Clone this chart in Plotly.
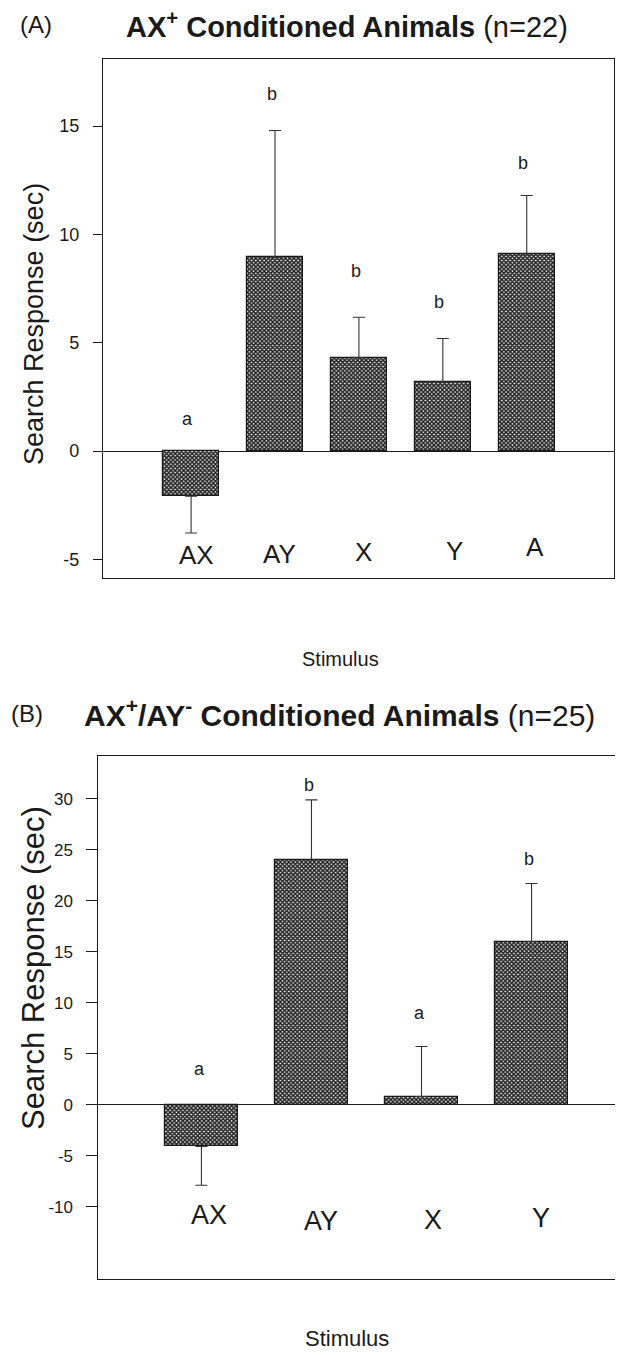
import plotly.graph_objects as go

# ---------------- data ----------------
cats_a = ["AX", "AY", "X", "Y", "A"]
mean_a = [-2.08, 8.95, 4.3, 3.18, 9.1]
sem_a = [1.7, 5.85, 1.88, 2.02, 2.7]
letters_a = ["a", "b", "b", "b", "b"]

cats_b = ["AX", "AY", "X", "Y"]
mean_b = [-4.1, 24.0, 0.8, 16.0]
sem_b = [3.8, 5.9, 4.9, 5.7]
letters_b = ["a", "b", "a", "b"]

yticks_a = [-5, 0, 5, 10, 15]
yticks_b = [-10, -5, 0, 5, 10, 15, 20, 25, 30]

# ---------------- layout helpers (positions) ----------------
PAGE_W, PAGE_H = 623, 1355
OFF = 8  # default page body margin
W, H = PAGE_W - OFF, PAGE_H - OFF
letter_y_a = [1.5, 16.5, 8.3, 6.9, 13.3]
letter_y_b = [3.5, 31.4, 9.0, 24.1]
catlab_dx_a = [0.07, 0.05, 0.06, 0.14, 0.10]
catlab_y_a = [-4.8, -4.75, -4.65, -4.6, -4.45]
catlab_dx_b = [0.07, 0.09, 0.10, 0.09]
catlab_y_b = [-10.8, -11.4, -11.3, -11.1]

FONT = "Liberation Sans, Arial, sans-serif"
INK = "#1a1a1a"
PAD = "\u00a0\u00a0"


def split_err(means, sems):
    up = [s if m >= 0 else 0 for m, s in zip(means, sems)]
    dn = [s if m < 0 else 0 for m, s in zip(means, sems)]
    return up, dn


def bar_trace(cats, means, sems, xa, ya, width):
    up, dn = split_err(means, sems)
    return go.Bar(
        x=cats, y=means, xaxis=xa, yaxis=ya, width=width,
        marker=dict(
            color="white",
            line=dict(color=INK, width=1.2),
            pattern=dict(shape="x", size=3, solidity=0.72,
                         fgcolor="#222222", bgcolor="#e2e2e2", fillmode="replace"),
        ),
        error_y=dict(type="data", symmetric=False, array=up, arrayminus=dn,
                     color="#333333", thickness=1.1, width=6),
        showlegend=False, hoverinfo="skip",
    )


fig = go.Figure()
fig.add_trace(bar_trace(cats_a, mean_a, sem_a, "x", "y", 0.67))
fig.add_trace(bar_trace(cats_b, mean_b, sem_b, "x2", "y2", 0.665))


def px_x(p):
    return (p - OFF) / W


def px_y(p):
    return 1 - (p - OFF) / H


axis_common = dict(showgrid=False, linecolor=INK, linewidth=1.3)

fig.update_layout(
    width=W, height=H,
    margin=dict(l=0, r=0, t=0, b=0),
    paper_bgcolor="white", plot_bgcolor="white",
    font=dict(family=FONT, color=INK),
    bargap=0,
    xaxis=dict(domain=[px_x(103), px_x(614)], range=[-1.05, 5.04],
               showline=True, mirror=True, showticklabels=False, ticks="",
               anchor="y", **axis_common),
    yaxis=dict(domain=[px_y(578), px_y(59)], range=[-5.86, 18.1],
               showline=True, mirror=True, tickvals=yticks_a,
               ticktext=[str(v) + PAD for v in yticks_a], ticks="outside",
               ticklen=9, tickcolor=INK, tickfont=dict(size=18, family=FONT),
               zeroline=True, zerolinecolor=INK, zerolinewidth=1.2,
               anchor="x", **axis_common),
    xaxis2=dict(domain=[px_x(98), 1.0], range=[-0.94, 3.905 - 8 / 108.3],
                showline=True, mirror=True, showticklabels=False, ticks="",
                anchor="y2", **axis_common),
    yaxis2=dict(domain=[px_y(1279), px_y(756)], range=[-17.1, 34.2],
                showline=True, mirror=False, tickvals=yticks_b,
                ticktext=[str(v) + PAD for v in yticks_b], ticks="outside",
                ticklen=11, tickcolor=INK, tickfont=dict(size=17, family=FONT),
                zeroline=True, zerolinecolor=INK, zerolinewidth=1.2,
                anchor="x2", **axis_common),
)

ann = []


def add(**kw):
    base = dict(showarrow=False, xanchor="center", yanchor="middle")
    base.update(kw)
    ann.append(base)


# significance letters
for i, (lt, yy) in enumerate(zip(letters_a, letter_y_a)):
    add(x=i - 0.04, y=yy, xref="x", yref="y", text=lt, font=dict(size=18, family=FONT))
for i, (lt, yy) in enumerate(zip(letters_b, letter_y_b)):
    add(x=i - 0.02, y=yy, xref="x2", yref="y2", text=lt, font=dict(size=18, family=FONT))
# category labels inside plots
for i, (c, dx, yy) in enumerate(zip(cats_a, catlab_dx_a, catlab_y_a)):
    add(x=i + dx, y=yy, xref="x", yref="y", text=c, font=dict(size=26, family=FONT))
for i, (c, dx, yy) in enumerate(zip(cats_b, catlab_dx_b, catlab_y_b)):
    add(x=i + dx, y=yy, xref="x2", yref="y2", text=c, font=dict(size=27, family=FONT))

# axis titles
add(x=px_x(34), y=px_y(324), xref="paper", yref="paper",
    text="Search Response (sec)", textangle=-90, font=dict(size=27, family=FONT))
add(x=px_x(33), y=px_y(968), xref="paper", yref="paper",
    text="Search Response (sec)", textangle=-90, font=dict(size=31, family=FONT))
add(x=px_x(340), y=px_y(659), xref="paper", yref="paper",
    text="Stimulus", font=dict(size=20, family=FONT))
add(x=px_x(347), y=px_y(1338), xref="paper", yref="paper",
    text="Stimulus", font=dict(size=22, family=FONT))

# panel titles
add(x=px_x(18), y=px_y(24), xref="paper", yref="paper", xanchor="left",
    text="(A)", font=dict(size=24, family=FONT))
add(x=px_x(124), y=px_y(25), xref="paper", yref="paper", xanchor="left",
    text="<b>AX<sup>+</sup> Conditioned Animals</b> (n=22)", font=dict(size=29, family=FONT))
add(x=px_x(9), y=px_y(713), xref="paper", yref="paper", xanchor="left",
    text="(B)", font=dict(size=24, family=FONT))
add(x=px_x(82), y=px_y(713), xref="paper", yref="paper", xanchor="left",
    text="<b>AX<sup>+</sup>/AY<sup>-</sup> Conditioned Animals</b> (n=25)",
    font=dict(size=30, family=FONT))

fig.update_layout(annotations=ann)
fig.write_html("out.html")
